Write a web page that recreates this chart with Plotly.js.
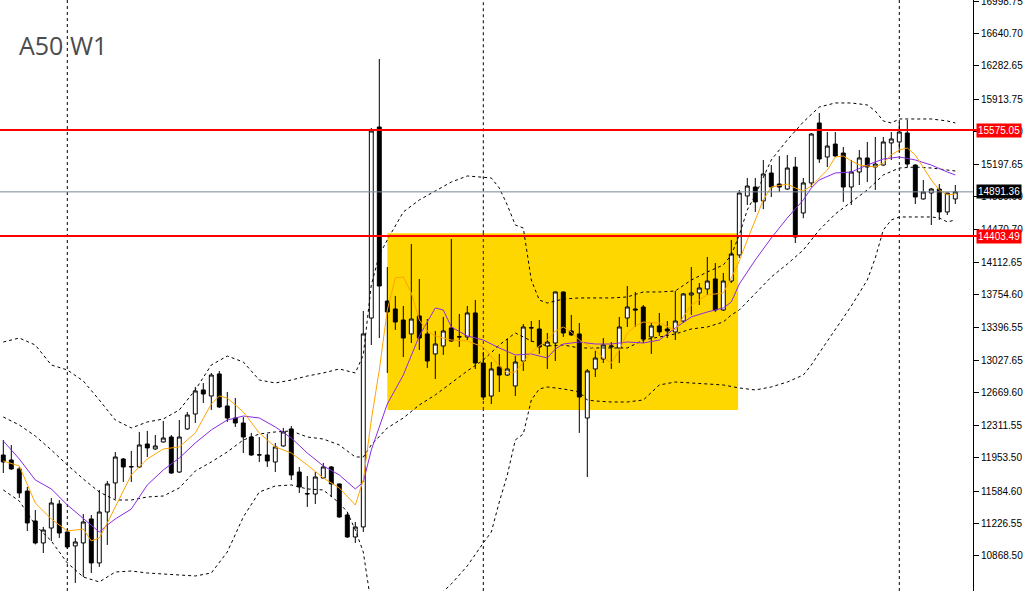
<!DOCTYPE html>
<html>
<head>
<meta charset="utf-8">
<script src="https://cdn.plot.ly/plotly-3.0.1.min.js"></script>
<style>
html,body{margin:0;padding:0;background:#ffffff;}
#chart{width:1027px;height:591px;}
</style>
</head>
<body>
<div id="chart"></div>
<script>
// ---- Weekly candles ----
const opens = [11983,11928,11829,11585,11254,11011,11176,11442,11132,10978,
11011,11276,10790,11353,11674,11939,11851,11851,12105,12050,
12127,12182,11795,12271,12436,12702,12635,12879,12525,12392,
12337,12182,11983,11983,11906,12083,12271,11795,11552,11552,
11729,11851,11663,11320,11077,11188,13497,15608,13685,13597,
13475,13321,13520,13321,13100,13188,13387,13288,13288,13553,
13000,12635,12956,12867,12746,13022,13387,13376,13188,13221,
13785,13354,13321,12392,12934,13044,13177,13166,13497,13597,
13619,13288,13409,13376,13343,13464,13752,13774,13818,13929,
13586,13906,14194,14846,14945,14791,15100,14978,14923,15166,
14658,14990,15653,15277,15420,15321,14945,15111,15266,15166,
15188,15432,15443,15542,15188,14813,14879,14923,14669,14813];
const highs = [12149,12094,11851,11630,11375,11188,11508,11486,11165,11066,
11331,11320,11597,11696,12017,11950,12028,12238,12249,12204,
12359,12204,12370,12459,12735,12779,12890,12912,12680,12613,
12403,12227,12182,12215,12116,12282,12304,11851,11751,11795,
11895,11862,11670,11342,11243,13575,15597,16360,14061,13741,
13630,14315,13929,13486,13354,13509,14371,13542,13630,13696,
13122,13011,13100,13265,13077,13431,13464,13475,13332,13790,
13790,13531,13442,12934,13133,13276,13232,13509,13851,13785,
13641,13453,13553,13464,13796,13774,14061,13884,14172,14105,
13995,14360,14912,15045,15045,15244,15188,15288,15299,15277,
15045,15542,15763,15553,15553,15387,15244,15354,15443,15498,
15498,15553,15664,15686,15195,15023,14935,14978,14879,14967];
const lows = [11784,11818,11508,11143,10995,10900,11033,11066,10944,10569,
10635,10679,10746,10989,11497,11685,11685,11840,11961,12040,
12120,11775,11784,12260,12337,12558,12481,12503,12348,12293,
12005,11975,11906,11851,11795,12075,11707,11563,11409,11442,
11720,11519,11290,11066,11011,11132,13199,13276,12890,13365,
13066,13221,13144,12945,12823,13089,13232,13177,13254,12934,
12591,12547,12680,12856,12635,12912,13232,13100,12934,13022,
13288,13300,12227,11740,12845,13000,12934,13000,13398,13398,
13221,13100,13299,13276,13254,13442,13531,13641,13752,13564,
13575,13884,14161,14746,14669,14700,14835,14890,14915,14326,
14600,14945,15211,15166,15277,14780,14746,14967,15000,14912,
15180,15244,15332,15166,14757,14805,14525,14581,14636,14757];
const closes = [11906,11829,11563,11232,11011,11154,11453,11121,10967,11022,
11243,10790,11353,11663,11961,11851,11855,12094,12061,12083,
12171,11784,12182,12425,12691,12657,12867,12514,12392,12337,
12182,11983,11985,11917,12072,12238,11762,11630,11556,11740,
11851,11663,11298,11077,11188,13321,15564,13851,13564,13453,
13276,13486,13276,13022,13210,13354,13243,13290,13553,13000,
12624,12934,12867,12934,13011,13398,13390,13177,13232,13785,
13332,13310,12624,12912,13055,13199,13188,13398,13619,13586,
13265,13409,13343,13354,13464,13763,13774,13829,13906,13586,
13906,14205,14879,14956,14780,15089,14945,14945,15155,14393,
14990,15531,15255,15398,15288,14945,15111,15266,15166,15199,
15443,15476,15553,15199,14835,14890,14923,14669,14879,14891.36];

// ---- Bollinger bands (week index -> value) ----
const upperIdx = [0,2,4,6,8,10,12,14,16,18,20,22,24,26,28,30,32,34,36,38,40,42,44,45,46,47,48,50,52,54,56,58,60,61,62,63,64,65,66,67,68,70,72,74,76,78,80,82,84,86,88,90,91,92,93,94,96,98,100,102,104,106,108,109,110,111,112,114,116,118,119];
const upperVal = [13232,13276,13199,12978,12923,12801,12591,12370,12282,12348,12381,12481,12702,12978,13077,13011,12812,12779,12812,12856,12890,12934,12890,13088,13862,14194,14360,14669,14802,14901,15000,15067,15056,15045,14934,14746,14525,14492,13917,13696,13663,13707,13719,13719,13719,13730,13785,13785,13796,13917,14006,14083,14194,14415,14691,14857,15244,15465,15664,15829,15874,15874,15852,15785,15675,15653,15697,15697,15697,15675,15653];
const midIdx = [0,2,4,6,8,10,12,14,16,18,20,22,24,26,28,30,32,34,36,38,40,42,44,45,46,48,50,52,54,56,58,60,62,64,66,68,70,72,74,76,78,80,82,84,86,88,90,91,92,94,96,98,100,102,104,106,108,110,112,114,116,118,119];
const midVal = [12403,12315,12193,12039,11873,11718,11574,11486,11486,11519,11530,11619,11806,11906,12017,12149,12215,12238,12249,12182,12160,12094,11961,11961,12094,12282,12392,12536,12647,12779,12912,13033,13199,13332,13243,13188,13199,13166,13166,13166,13166,13254,13288,13321,13376,13398,13453,13531,13586,13774,13951,14094,14249,14470,14647,14780,14912,15078,15155,15166,15155,15133,15122];
const lowerIdx = [0,2,4,6,8,10,12,14,16,18,20,22,24,26,28,30,32,34,36,38,40,42,43,44,45,46,47,48,50,52,54,56,58,60,61,62,63,64,65,66,67,68,70,72,73,74,76,78,80,82,84,86,88,90,92,94,96,98,100,101,102,104,106,108,109,110,111,112,114,116,117,118,119];
const lowerVal = [11597,11475,11210,11033,10790,10635,10580,10690,10701,10679,10668,10657,10646,10679,10911,11298,11574,11641,11652,11608,11597,11453,11353,11154,10911,10325,10104,10204,10116,10270,10392,10558,10757,11011,11132,11464,11762,12149,12215,12591,12713,12735,12713,12680,12591,12580,12569,12569,12591,12757,12790,12779,12768,12757,12724,12702,12735,12790,12867,12978,13111,13365,13630,13917,14161,14470,14581,14614,14614,14614,14603,14559,14581];

// ---- Moving averages ----
const fastIdx = [0,2,4,6,8,10,11,12,13,14,16,18,20,22,24,26,27,28,30,32,34,36,38,40,42,44,45,46,47,48,49,50,51,52,53,54,56,58,60,62,63,64,65,66,68,69,70,71,72,74,75,76,77,78,79,80,82,84,85,86,88,90,91,92,93,94,95,96,98,99,100,101,102,103,104,105,106,107,108,109,110,111,112,113,114,115,116,117,118,119];
const fastVal = [11917,11862,11453,11276,11143,11165,11033,11066,11232,11409,11762,11939,12050,12072,12227,12547,12635,12613,12459,12227,12072,12005,11873,11729,11619,11431,11707,12370,12923,13586,13940,13951,13774,13475,13354,13299,13254,13243,13177,12967,12890,12901,13011,13122,13254,13354,13398,13343,13254,13144,13055,13000,13144,13332,13409,13453,13442,13365,13509,13641,13752,13774,13940,14127,14360,14581,14802,14945,14978,14934,14901,14956,15045,15133,15277,15288,15233,15188,15177,15166,15211,15299,15354,15376,15299,15166,15023,14912,14857,14868];
const slowIdx = [0,2,4,6,8,10,12,13,14,16,18,20,22,24,26,28,30,32,34,36,38,40,42,44,45,46,47,48,50,52,54,55,56,58,60,62,64,66,68,69,70,72,74,76,78,80,82,84,86,88,90,91,92,93,94,96,98,100,101,102,104,106,108,110,112,114,116,118,119];
const slowVal = [12138,11939,11707,11608,11431,11276,11132,11210,11276,11386,11652,11818,11950,12116,12260,12370,12414,12392,12293,12171,12005,11862,11762,11608,11685,12039,12293,12547,12867,13299,13608,13586,13398,13299,13254,13166,13089,13100,13055,13155,13210,13232,13210,13210,13232,13221,13254,13387,13509,13564,13608,13674,13873,14006,14139,14382,14603,14802,14934,15023,15100,15111,15188,15255,15277,15244,15188,15111,15078];

// ---- Levels, zone, separators, axis ticks ----
const resistance = 15575.05;
const support = 14403.49;
const lastPrice = 14891.36;
const zoneStartWeek = 48, zoneEndWeek = 91.85, zoneLow = 12481, zoneHigh = 14434;
const yearStartWeeks = [8, 60, 112];
const tickValues = [16998.75,16640.70,16282.65,15913.75,15555.70,15197.65,14839.60,14470.70,14112.65,13754.60,13396.55,13027.65,12669.60,12311.55,11953.50,11584.60,11226.55,10868.50];
const tickLabels = tickValues.map(v => v.toFixed(2));
const chartTitle = 'A50 W1';

const yMin = 10480, yMax = 17012;
const weeks = opens.map((_, i) => i);

const traces = [
  {type:'scatter', mode:'lines', x:upperIdx, y:upperVal, line:{color:'#000000', width:1, dash:'3px,3px'}, hoverinfo:'skip', showlegend:false},
  {type:'scatter', mode:'lines', x:midIdx, y:midVal, line:{color:'#000000', width:1, dash:'3px,3px'}, hoverinfo:'skip', showlegend:false},
  {type:'scatter', mode:'lines', x:lowerIdx, y:lowerVal, line:{color:'#000000', width:1, dash:'3px,3px'}, hoverinfo:'skip', showlegend:false},
  {type:'candlestick', x:weeks, open:opens, high:highs, low:lows, close:closes,
   increasing:{line:{color:'#000000', width:1}, fillcolor:'#ffffff'},
   decreasing:{line:{color:'#000000', width:1}, fillcolor:'#000000'},
   whiskerwidth:0, hoverinfo:'skip', showlegend:false},
  {type:'scatter', mode:'lines', x:slowIdx, y:slowVal, line:{color:'#8A2BE2', width:1}, hoverinfo:'skip', showlegend:false},
  {type:'scatter', mode:'lines', x:fastIdx, y:fastVal, line:{color:'#FFA500', width:1}, hoverinfo:'skip', showlegend:false}
];

const shapes = [];
shapes.push({type:'rect', xref:'x', yref:'y', x0:zoneStartWeek, x1:zoneEndWeek, y0:zoneLow, y1:zoneHigh,
  fillcolor:'#FFD700', line:{width:0}, layer:'below'});
yearStartWeeks.forEach(w => {
  const inZone = w >= zoneStartWeek && w <= zoneEndWeek;
  const segs = inZone
    ? [[yMin, zoneLow, '#000000'], [zoneLow, zoneHigh, '#0000ff'], [zoneHigh, yMax, '#000000']]
    : [[yMin, yMax, '#000000']];
  segs.forEach(s => shapes.push({type:'line', xref:'x', yref:'y', x0:w, x1:w, y0:s[0], y1:s[1],
    line:{color:s[2], width:1, dash:'3px,3px'}, layer:'below'}));
});
shapes.push({type:'line', xref:'paper', yref:'y', x0:0, x1:1, y0:lastPrice, y1:lastPrice, line:{color:'#778899', width:1}, layer:'above'});
shapes.push({type:'line', xref:'paper', yref:'y', x0:0, x1:1.004, y0:resistance, y1:resistance, line:{color:'#ff0000', width:2}, layer:'above'});
shapes.push({type:'line', xref:'paper', yref:'y', x0:0, x1:1.004, y0:support, y1:support, line:{color:'#ff0000', width:2}, layer:'above'});

function priceTag(v, bg) {
  return {xref:'paper', yref:'y', x:1, y:v, xanchor:'left', yanchor:'middle', xshift:3,
    text:v.toFixed(2), showarrow:false, bgcolor:bg, borderpad:1,
    font:{family:'Liberation Sans, Arial, sans-serif', size:10, color:'#ffffff'}};
}

const layout = {
  width:1027, height:591,
  margin:{l:0, r:54, t:0, b:0, pad:0},
  paper_bgcolor:'#ffffff', plot_bgcolor:'#ffffff',
  showlegend:false,
  xaxis:{range:[-0.4125, 121.2125], visible:false, showgrid:false, zeroline:false, rangeslider:{visible:false}, fixedrange:true},
  yaxis:{range:[yMin, yMax], side:'right', showgrid:false, zeroline:false, showline:true, linecolor:'#000000', linewidth:1,
    ticks:'outside', ticklen:5, tickcolor:'#000000', tickwidth:1, ticklabeloverflow:'allow',
    tickmode:'array', tickvals:tickValues, ticktext:tickLabels,
    tickfont:{family:'Liberation Sans, Arial, sans-serif', size:10, color:'#000000'}, fixedrange:true},
  shapes:shapes,
  annotations:[
    {xref:'paper', yref:'paper', x:0, y:1 - 45/591, xanchor:'left', yanchor:'middle', xshift:17,
     text:chartTitle, showarrow:false, font:{family:'Open Sans, Noto Sans, sans-serif', size:25, color:'#4b4b4b'}},
    priceTag(resistance, '#ff0000'),
    priceTag(lastPrice, '#000000'),
    priceTag(support, '#ff0000')
  ]
};

Plotly.newPlot('chart', traces, layout, {staticPlot:true, displayModeBar:false});
</script>
</body>
</html>
